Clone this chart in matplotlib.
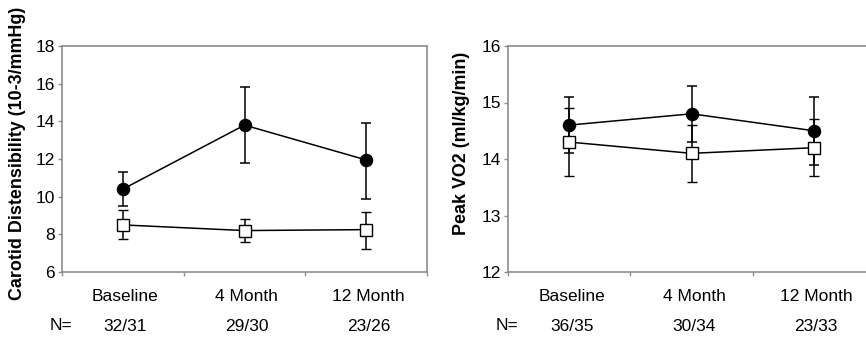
import numpy as np
import matplotlib.pyplot as plt

plt.rcParams['font.family'] = ['Liberation Sans', 'DejaVu Sans']

categories = ['Baseline', '4 Month', '12 Month']

# carotid distensibility (10-3/mmHg)
cd_filled = [10.4, 13.8, 11.95]
cd_filled_lo = [9.5, 11.8, 9.9]
cd_filled_hi = [11.3, 15.8, 13.9]
cd_open = [8.5, 8.2, 8.25]
cd_open_lo = [7.75, 7.6, 7.2]
cd_open_hi = [9.3, 8.8, 9.2]
cd_n = ['32/31', '29/30', '23/26']

# peak VO2 (ml/kg/min)
vo_filled = [14.6, 14.8, 14.5]
vo_filled_lo = [14.1, 14.3, 13.9]
vo_filled_hi = [15.1, 15.3, 15.1]
vo_open = [14.3, 14.1, 14.2]
vo_open_lo = [13.7, 13.6, 13.7]
vo_open_hi = [14.9, 14.6, 14.7]
vo_n = ['36/35', '30/34', '23/33']

W, H = 866, 343
fig = plt.figure(figsize=(W / 100, H / 100), dpi=100)

spine_col = '#8c8c8c'
fs = 12.5


def panel(rect, filled, flo, fhi, opn, olo, ohi, nvals, ylim, yticks,
          ylabel, label_x, label_y, nx):
    ax = fig.add_axes(rect)
    x = np.arange(len(categories)) + 0.5

    def err(m, lo, hi):
        m = np.array(m)
        return [m - np.array(lo), np.array(hi) - m]

    ax.errorbar(x, filled, yerr=err(filled, flo, fhi), fmt='o-', color='black',
                lw=1.1, elinewidth=1.1, capsize=3.6, capthick=1.1, ms=8.7,
                mfc='black', mec='black', zorder=3)
    ax.errorbar(x, opn, yerr=err(opn, olo, ohi), fmt='s-', color='black',
                lw=1.1, elinewidth=1.1, capsize=3.6, capthick=1.1, ms=8.5,
                mfc='white', mec='black', mew=1, zorder=4)

    ax.set_xlim(0, 3)
    ax.set_ylim(*ylim)
    ax.set_yticks(yticks)
    ax.set_xticks([0, 1, 2, 3])
    ax.set_xticklabels([])
    ax.tick_params(axis='both', direction='out', length=3, width=1,
                   color=spine_col, labelsize=fs, pad=2)
    for s in ax.spines.values():
        s.set_color(spine_col)
        s.set_linewidth(1.2)

    tr = ax.get_xaxis_transform()
    for xi, c, n in zip(x, categories, nvals):
        ax.text(xi + 0.02, -0.11, c, transform=tr, ha='center', va='center',
                fontsize=fs, clip_on=False)
        ax.text(xi + 0.02, -0.24, n, transform=tr, ha='center', va='center',
                fontsize=fs, clip_on=False)
    fig.text(nx / W, 1 - 326 / H, 'N=', ha='center', va='center', fontsize=fs)
    fig.text(label_x / W, 1 - label_y / H, ylabel, rotation=90, ha='center',
             va='center', fontsize=12.9, fontweight='bold')
    return ax


top, bot = 46, 272
panel([62 / W, 1 - bot / H, 365 / W, (bot - top) / H],
      cd_filled, cd_filled_lo, cd_filled_hi, cd_open, cd_open_lo, cd_open_hi,
      cd_n, (6, 18), [6, 8, 10, 12, 14, 16, 18],
      'Carotid Distensibility (10-3/mmHg)', 18, 153, 61)
panel([508 / W, 1 - bot / H, 367 / W, (bot - top) / H],
      vo_filled, vo_filled_lo, vo_filled_hi, vo_open, vo_open_lo, vo_open_hi,
      vo_n, (12, 16), [12, 13, 14, 15, 16],
      'Peak VO2 (ml/kg/min)', 462, 143, 507)

fig.savefig('out.png', dpi=100)
